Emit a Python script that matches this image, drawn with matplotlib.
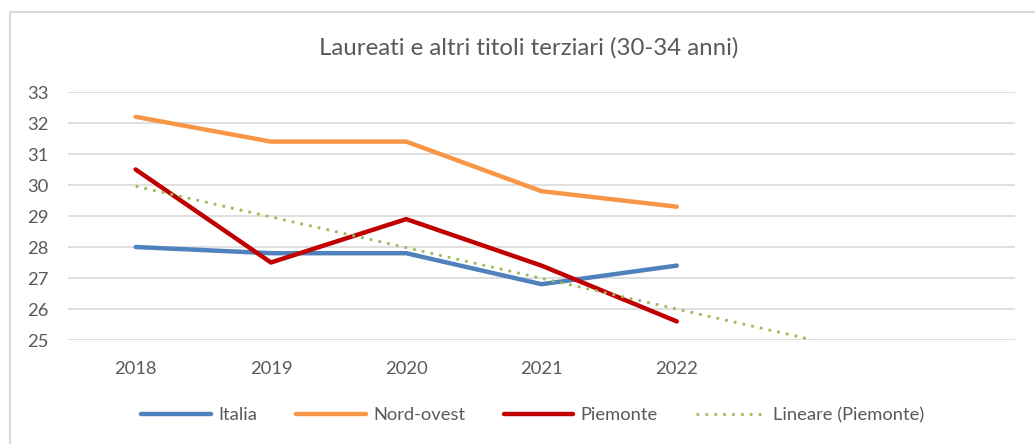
import matplotlib.pyplot as plt
import matplotlib.patches as patches
import numpy as np

plt.rcParams['font.family'] = ['Lato', 'DejaVu Sans']

anni = ['2018', '2019', '2020', '2021', '2022']
italia = [28.0, 27.8, 27.8, 26.8, 27.4]
nord_ovest = [32.2, 31.4, 31.4, 29.8, 29.3]
piemonte = [30.5, 27.5, 28.9, 27.4, 25.6]

grigio = '#595959'

fig = plt.figure(figsize=(10.35, 4.44), dpi=100)
ax = fig.add_axes([68 / 1035, 1 - 340 / 444, 947 / 1035, 248 / 444])

# chart frame, like the excel chart area
frame = patches.Rectangle((10 / 1035, -0.2), 1.2, 1.2 - 12 / 444,
                          transform=fig.transFigure, fill=False,
                          edgecolor='#D9D9D9', linewidth=1.5, zorder=0)
fig.patches.append(frame)

x = np.arange(len(anni))
ax.plot(x, italia, color='#4F81BD', lw=3.2, solid_capstyle='round', label='Italia')
ax.plot(x, nord_ovest, color='#F79646', lw=3.2, solid_capstyle='round', label='Nord-ovest')
ax.plot(x, piemonte, color='#C00000', lw=3.2, solid_capstyle='round', label='Piemonte')

# trendline lineare con una previsione in avanti
coef = np.polyfit(x, piemonte, 1)
xt = np.arange(len(anni) + 1)
ax.plot(xt, np.polyval(coef, xt), color='#9BBB59', lw=2, ls=(0, (1, 2.2)),
        label='Lineare (Piemonte)')

ax.set_xlim(-0.5, 6.5)
ax.set_ylim(25, 33)
ax.set_xticks(x)
ax.set_xticklabels(anni)
ax.set_yticks(range(25, 34))
ax.tick_params(axis='both', length=0, labelsize=13.2, colors=grigio)
ax.tick_params(axis='x', pad=15)
ax.tick_params(axis='y', pad=14)
ax.grid(axis='y', color='#D9D9D9', lw=1.2)
ax.set_axisbelow(True)
for s in ax.spines.values():
    s.set_visible(False)

fig.text(0.511, 1 - 48 / 444, 'Laureati e altri titoli terziari (30-34 anni)',
         ha='center', va='center', fontsize=17.3, color=grigio)

fig.legend(loc='center', bbox_to_anchor=(0.515, 1 - 415 / 444), ncol=4,
           frameon=False, fontsize=13.2, labelcolor=grigio, handlelength=3.8,
           columnspacing=2.1, handletextpad=0.4)

fig.savefig('out.png', dpi=100)
